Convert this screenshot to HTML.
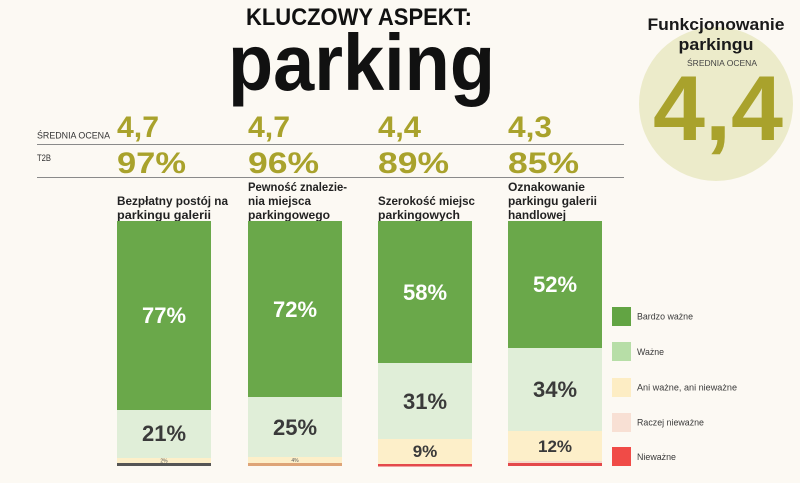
<!DOCTYPE html>
<html>
<head>
<meta charset="utf-8">
<style>
html,body{margin:0;padding:0;background:#fcf9f3;}
svg{display:block;}
text{font-family:"Liberation Sans",sans-serif;}
</style>
</head>
<body>
<svg width="800" height="483" viewBox="0 0 800 483" xmlns="http://www.w3.org/2000/svg">
<rect x="0" y="0" width="800" height="483" fill="#fcf9f3"/>

<!-- Title -->
<text x="246" y="25" font-size="24" font-weight="bold" fill="#111" textLength="226" lengthAdjust="spacingAndGlyphs">KLUCZOWY ASPEKT:</text>
<text x="228" y="90" font-size="80" font-weight="bold" fill="#111" textLength="267" lengthAdjust="spacingAndGlyphs">parking</text>

<!-- Circle -->
<circle cx="716" cy="104" r="77" fill="#ecebca"/>
<text x="716" y="30" font-size="16.5" font-weight="bold" fill="#1a1a1a" text-anchor="middle" textLength="137" lengthAdjust="spacingAndGlyphs">Funkcjonowanie</text>
<text x="716" y="50" font-size="16.5" font-weight="bold" fill="#1a1a1a" text-anchor="middle" textLength="75" lengthAdjust="spacingAndGlyphs">parkingu</text>
<text x="722" y="66" font-size="8" fill="#444" text-anchor="middle" textLength="70" lengthAdjust="spacingAndGlyphs">ŚREDNIA OCENA</text>
<text x="653" y="140" font-size="92" font-weight="bold" fill="#a9a22c" textLength="130" lengthAdjust="spacingAndGlyphs">4,4</text>

<!-- Row labels and lines -->
<text x="37" y="138.5" font-size="9" fill="#333" textLength="73" lengthAdjust="spacingAndGlyphs">ŚREDNIA OCENA</text>
<text x="37" y="161" font-size="9" fill="#333" textLength="14" lengthAdjust="spacingAndGlyphs">T2B</text>
<line x1="37" y1="144.5" x2="624" y2="144.5" stroke="#8a8a8a" stroke-width="1"/>
<line x1="37" y1="177.5" x2="624" y2="177.5" stroke="#8a8a8a" stroke-width="1"/>

<g font-size="30" font-weight="bold" fill="#a9a22c">
<text x="117" y="137" textLength="42" lengthAdjust="spacingAndGlyphs">4,7</text>
<text x="248" y="137" textLength="42" lengthAdjust="spacingAndGlyphs">4,7</text>
<text x="378" y="137" textLength="43" lengthAdjust="spacingAndGlyphs">4,4</text>
<text x="508" y="137" textLength="44" lengthAdjust="spacingAndGlyphs">4,3</text>
<text x="117" y="173" textLength="69" lengthAdjust="spacingAndGlyphs">97%</text>
<text x="248" y="173" textLength="71" lengthAdjust="spacingAndGlyphs">96%</text>
<text x="378" y="173" textLength="71" lengthAdjust="spacingAndGlyphs">89%</text>
<text x="508" y="173" textLength="71" lengthAdjust="spacingAndGlyphs">85%</text>
</g>

<!-- Category labels -->
<g font-size="12" font-weight="bold" fill="#222">
<text x="117" y="205" textLength="111" lengthAdjust="spacingAndGlyphs">Bezpłatny postój na</text>
<text x="117" y="219" textLength="94" lengthAdjust="spacingAndGlyphs">parkingu galerii</text>
<text x="248" y="191" textLength="99" lengthAdjust="spacingAndGlyphs">Pewność znalezie-</text>
<text x="248" y="205" textLength="63" lengthAdjust="spacingAndGlyphs">nia miejsca</text>
<text x="248" y="219" textLength="82" lengthAdjust="spacingAndGlyphs">parkingowego</text>
<text x="378" y="205" textLength="97" lengthAdjust="spacingAndGlyphs">Szerokość miejsc</text>
<text x="378" y="219" textLength="82" lengthAdjust="spacingAndGlyphs">parkingowych</text>
<text x="508" y="191" textLength="77" lengthAdjust="spacingAndGlyphs">Oznakowanie</text>
<text x="508" y="205" textLength="89" lengthAdjust="spacingAndGlyphs">parkingu galerii</text>
<text x="508" y="219" textLength="58" lengthAdjust="spacingAndGlyphs">handlowej</text>
</g>

<!-- Bar 1 -->
<rect x="117" y="221" width="94" height="189" fill="#6aa84a"/>
<rect x="117" y="410" width="94" height="48" fill="#e0eed8"/>
<rect x="117" y="458" width="94" height="5" fill="#fdefc9"/>
<rect x="117" y="463" width="94" height="3" fill="#555"/>
<!-- Bar 2 -->
<rect x="248" y="221" width="94" height="176" fill="#6aa84a"/>
<rect x="248" y="397" width="94" height="60" fill="#e0eed8"/>
<rect x="248" y="457" width="94" height="6" fill="#fdefc9"/>
<rect x="248" y="463" width="94" height="3" fill="#dea477"/>
<!-- Bar 3 -->
<rect x="378" y="221" width="94" height="142" fill="#6aa84a"/>
<rect x="378" y="363" width="94" height="76" fill="#e0eed8"/>
<rect x="378" y="439" width="94" height="25" fill="#fdefc9"/>
<rect x="378" y="464" width="94" height="2.5" fill="#e4494b"/>
<!-- Bar 4 -->
<rect x="508" y="221" width="94" height="127" fill="#6aa84a"/>
<rect x="508" y="348" width="94" height="83" fill="#e0eed8"/>
<rect x="508" y="431" width="94" height="30" fill="#fdefc9"/>
<rect x="508" y="461" width="94" height="2" fill="#f6d9cc"/>
<rect x="508" y="463" width="94" height="3" fill="#e4494b"/>

<!-- Bar values -->
<g font-size="22" font-weight="bold" text-anchor="middle">
<text x="164" y="323" fill="#fff">77%</text>
<text x="295" y="317" fill="#fff">72%</text>
<text x="425" y="300" fill="#fff">58%</text>
<text x="555" y="292" fill="#fff">52%</text>
<text x="164" y="441" fill="#3a3a3a">21%</text>
<text x="295" y="435" fill="#3a3a3a">25%</text>
<text x="425" y="409" fill="#3a3a3a">31%</text>
<text x="555" y="397" fill="#3a3a3a">34%</text>
</g>
<g font-size="17" font-weight="bold" text-anchor="middle" fill="#3a3a3a">
<text x="425" y="457">9%</text>
<text x="555" y="452">12%</text>
</g>
<g font-size="5" text-anchor="middle" fill="#555">
<text x="164" y="462.5">2%</text>
<text x="295" y="462">4%</text>
</g>

<!-- Legend -->
<rect x="612" y="307" width="19" height="19" fill="#62a443"/>
<rect x="612" y="342" width="19" height="19" fill="#b7dea7"/>
<rect x="612" y="378" width="19" height="19" fill="#fdedc4"/>
<rect x="612" y="413" width="19" height="19" fill="#f8e0d4"/>
<rect x="612" y="447" width="19" height="19" fill="#f04b47"/>
<g font-size="9" fill="#3a3a3a">
<text x="637" y="319.5" textLength="56" lengthAdjust="spacingAndGlyphs">Bardzo ważne</text>
<text x="637" y="355" textLength="27" lengthAdjust="spacingAndGlyphs">Ważne</text>
<text x="637" y="390.5" textLength="100" lengthAdjust="spacingAndGlyphs">Ani ważne, ani nieważne</text>
<text x="637" y="425.5" textLength="67" lengthAdjust="spacingAndGlyphs">Raczej nieważne</text>
<text x="637" y="460" textLength="39" lengthAdjust="spacingAndGlyphs">Nieważne</text>
</g>
</svg>
</body>
</html>
